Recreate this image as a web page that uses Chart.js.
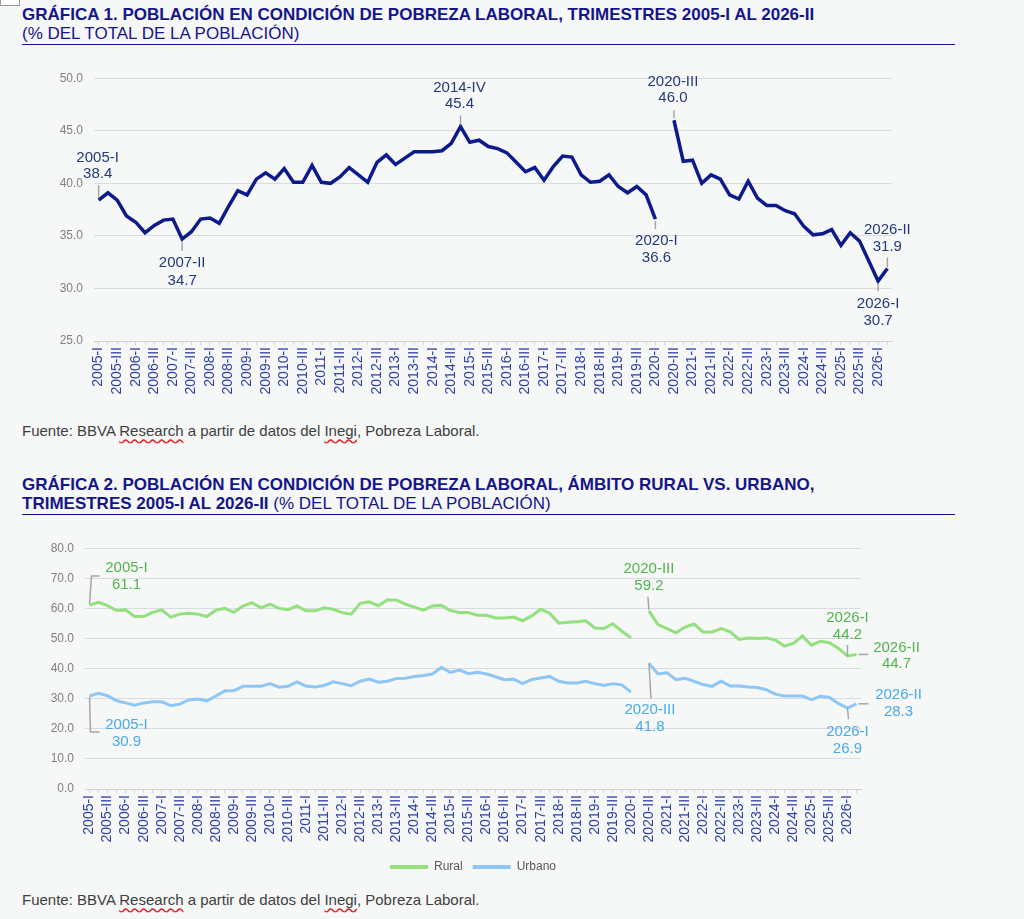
<!DOCTYPE html>
<html lang="es">
<head>
<meta charset="utf-8">
<title>Pobreza laboral</title>
<script src="https://cdn.jsdelivr.net/npm/chart.js@4.4.1/dist/chart.umd.min.js"></script>
<style>
  html, body { margin: 0; padding: 0; }
  body {
    width: 1024px; height: 919px; overflow: hidden; position: relative;
    background: #f6f7f7; font-family: "Liberation Sans", Arial, sans-serif;
  }
  .corner { position: absolute; left: 0; top: -2px; width: 18px; height: 6px; border: 1px solid #9a9a9a; background: #fff; }
  .titulo { position: absolute; left: 22px; width: 933px; color: #15158a; font-size: 17px; line-height: 19px; border-bottom: 1.5px solid #15158a; padding-bottom: 1px; }
  .titulo b { font-weight: bold; }
  .fuente { position: absolute; left: 22px; font-size: 15px; color: #404040; }
  .sq { text-decoration: underline wavy #e02020; text-decoration-skip-ink: none; text-underline-offset: 2px; }
  .box { position: absolute; left: 0; width: 1024px; }
</style>
</head>
<body>
<div class="corner"></div>
<div class="titulo" style="top:5px;"><b>GRÁFICA 1. POBLACIÓN EN CONDICIÓN DE POBREZA LABORAL, TRIMESTRES 2005-I AL 2026-II</b><br>(% DEL TOTAL DE LA POBLACIÓN)</div>
<div class="box" style="top:60px;height:345px;"><canvas id="chart1"></canvas></div>
<div class="fuente" style="top:422px;">Fuente: BBVA <span class="sq">Research</span> a partir de datos del <span class="sq">Inegi</span>, Pobreza Laboral.</div>

<div class="titulo" style="top:475px;"><b>GRÁFICA 2. POBLACIÓN EN CONDICIÓN DE POBREZA LABORAL, ÁMBITO RURAL VS. URBANO,<br>TRIMESTRES 2005-I AL 2026-II</b> (% DEL TOTAL DE LA POBLACIÓN)</div>
<div class="box" style="top:530px;height:353px;"><canvas id="chart2"></canvas></div>
<div class="fuente" style="top:891px;">Fuente: BBVA <span class="sq">Research</span> a partir de datos del <span class="sq">Inegi</span>, Pobreza Laboral.</div>

<script>
// Quarters 2005-I .. 2026-II
const trimestres = [
  '2005-I','2005-II','2005-III','2005-IV','2006-I','2006-II','2006-III','2006-IV',
  '2007-I','2007-II','2007-III','2007-IV','2008-I','2008-II','2008-III','2008-IV',
  '2009-I','2009-II','2009-III','2009-IV','2010-I','2010-II','2010-III','2010-IV',
  '2011-I','2011-II','2011-III','2011-IV','2012-I','2012-II','2012-III','2012-IV',
  '2013-I','2013-II','2013-III','2013-IV','2014-I','2014-II','2014-III','2014-IV',
  '2015-I','2015-II','2015-III','2015-IV','2016-I','2016-II','2016-III','2016-IV',
  '2017-I','2017-II','2017-III','2017-IV','2018-I','2018-II','2018-III','2018-IV',
  '2019-I','2019-II','2019-III','2019-IV','2020-I','2020-II','2020-III','2020-IV',
  '2021-I','2021-II','2021-III','2021-IV','2022-I','2022-II','2022-III','2022-IV',
  '2023-I','2023-II','2023-III','2023-IV','2024-I','2024-II','2024-III','2024-IV',
  '2025-I','2025-II','2025-III','2025-IV','2026-I','2026-II'
];

// Grafica 1: total population in labour poverty (%)
const pobrezaTotal = [
  38.4, 39.1, 38.4, 36.9, 36.3, 35.3, 36.0, 36.5,
  36.6, 34.7, 35.4, 36.6, 36.7, 36.2, 37.8, 39.3,
  38.9, 40.4, 41.0, 40.4, 41.4, 40.1, 40.1, 41.7,
  40.1, 40.0, 40.6, 41.5, 40.8, 40.1, 42.0, 42.7,
  41.8, 42.4, 43.0, 43.0, 43.0, 43.1, 43.8, 45.4,
  43.9, 44.1, 43.5, 43.3, 42.9, 42.0, 41.1, 41.5,
  40.3, 41.6, 42.6, 42.5, 40.8, 40.1, 40.2, 40.8,
  39.7, 39.1, 39.7, 38.9, 36.6, null, 46.0, 42.1,
  42.2, 40.0, 40.8, 40.4, 38.9, 38.5, 40.2, 38.6,
  37.9, 37.9, 37.4, 37.1, 35.9, 35.1, 35.2, 35.6,
  34.1, 35.3, 34.5, 32.6, 30.7, 31.9
];

// Grafica 2: rural vs urban (%)
const rural = [
  61.1, 62.0, 60.9, 59.3, 59.5, 57.3, 57.3, 58.7,
  59.5, 57.1, 58.1, 58.4, 58.1, 57.3, 59.4, 60.0,
  58.7, 60.8, 61.9, 60.2, 61.4, 60.0, 59.6, 60.8,
  59.2, 59.2, 60.2, 59.7, 58.6, 58.1, 61.7, 62.2,
  60.9, 62.8, 62.8, 61.4, 60.4, 59.4, 60.8, 61.0,
  59.3, 58.6, 58.6, 57.7, 57.7, 56.8, 56.8, 57.1,
  55.9, 57.5, 59.7, 58.4, 55.1, 55.4, 55.6, 55.9,
  53.5, 53.3, 54.9, 52.4, 50.2, null, 59.2, 54.6,
  53.3, 51.9, 53.8, 54.8, 52.2, 52.2, 53.3, 52.2,
  49.7, 50.2, 50.0, 50.2, 49.5, 47.5, 48.4, 50.8,
  47.8, 49.1, 48.6, 46.7, 44.2, 44.7
];
const urbano = [
  30.9, 31.8, 31.0, 29.3, 28.6, 27.8, 28.6, 29.0,
  29.0, 27.7, 28.2, 29.6, 29.9, 29.3, 30.9, 32.6,
  32.6, 34.1, 34.1, 34.1, 35.0, 33.8, 34.1, 35.6,
  34.2, 33.9, 34.4, 35.6, 35.0, 34.3, 35.8, 36.5,
  35.5, 35.8, 36.7, 36.8, 37.4, 37.7, 38.2, 40.4,
  38.7, 39.5, 38.3, 38.8, 38.2, 37.3, 36.3, 36.5,
  35.0, 36.4, 36.9, 37.4, 35.8, 35.2, 35.2, 35.8,
  35.0, 34.4, 35.0, 34.6, 32.2, null, 41.8, 38.2,
  38.6, 36.3, 36.8, 35.8, 34.7, 34.1, 35.8, 34.2,
  34.2, 33.9, 33.7, 33.0, 31.5, 30.9, 30.9, 30.9,
  29.7, 30.8, 30.4, 28.4, 26.9, 28.3
];

const FONT = '"Liberation Sans", Arial, sans-serif';

// Data callouts: which point, where the text sits relative to it, and the leader line
const notas1 = [
  { ds: 0, i: 0,  dx: -1, dy: [-42, -26], lead: [[0, -2], [0, -15]] },
  { ds: 0, i: 9,  dx: 0,  dy: [24, 42],   lead: [[0, 2], [0, 12]] },
  { ds: 0, i: 39, dx: -1, dy: [-39, -23], lead: [[0, -2], [0, -11]] },
  { ds: 0, i: 60, dx: 1,  dy: [22, 39],   lead: [[0, 2], [0, 10]] },
  { ds: 0, i: 62, dx: -1, dy: [-38, -22], lead: [[0, -2], [0, -10]] },
  { ds: 0, i: 84, dx: 0,  dy: [23, 40],   lead: [[0, 2], [0, 10]] },
  { ds: 0, i: 85, dx: 0,  dy: [-39, -22], lead: [[0, -1], [0, -11]] }
];
const notas2 = [
  { ds: 0, i: 0,  dx: 37, dy: [-37, -20], lead: [[0, -1], [2, -29], [10, -29]] },
  { ds: 1, i: 0,  dx: 37, dy: [29, 46],   lead: [[0, 1], [1, 36], [10, 36]] },
  { ds: 0, i: 62, dx: 0,  dy: [-42, -25], lead: [[0, -1], [-1, -14]] },
  { ds: 1, i: 62, dx: 1,  dy: [47, 64],   lead: [[0, 0], [2, 35]] },
  { ds: 0, i: 84, dx: 0,  dy: [-38, -21], lead: [[0, 0], [0, -11]] },
  { ds: 0, i: 85, dx: 40, dy: [-7, 9],    lead: [[2, 0], [12, 0]] },
  { ds: 1, i: 84, dx: 0,  dy: [24, 41],   lead: [[0, 0], [1, 11]] },
  { ds: 1, i: 85, dx: 42, dy: [-9, 8],    lead: [[2, 0], [12, 0]] }
];

// Plugin that draws the callouts from the scales
function calloutPlugin(notas, colors) {
  return {
    id: 'callouts',
    afterDatasetsDraw(chart) {
      const ctx = chart.ctx;
      const xs = chart.scales.x, ys = chart.scales.y;
      ctx.save();
      notas.forEach(n => {
        const v = chart.data.datasets[n.ds].data[n.i];
        const px = xs.getPixelForValue(n.i);
        const py = ys.getPixelForValue(v);
        ctx.strokeStyle = '#a6a6a6';
        ctx.lineWidth = 1.5;
        ctx.beginPath();
        n.lead.forEach((p, k) => {
          if (k === 0) ctx.moveTo(px + p[0], py + p[1]);
          else ctx.lineTo(px + p[0], py + p[1]);
        });
        ctx.stroke();
        ctx.fillStyle = colors[n.ds];
        ctx.font = '15px ' + FONT;
        ctx.textAlign = 'center';
        ctx.textBaseline = 'middle';
        ctx.fillText(chart.data.labels[n.i], px + n.dx, py + n.dy[0]);
        ctx.fillText(v.toFixed(1), px + n.dx, py + n.dy[1]);
      });
      ctx.restore();
    }
  };
}

function xAxis(height) {
  return {
    offset: true,
    grid: { display: true, drawOnChartArea: false, drawTicks: true, tickLength: 4, color: '#d3d3d3' },
    border: { display: true, color: '#d3d3d3' },
    ticks: {
      autoSkip: false, maxRotation: 90, minRotation: 90, padding: 2,
      color: '#3040a8', font: { family: FONT, size: 14 },
      callback: (val, idx) => idx % 2 === 0 ? trimestres[idx] : ''
    },
    afterFit: s => { s.height = height; }
  };
}

function yAxis(min, max, step, width) {
  return {
    min: min, max: max,
    grid: { color: '#d9dbe0', drawTicks: false, lineWidth: 1 },
    border: { display: false },
    ticks: {
      stepSize: step, padding: 11, color: '#808080',
      font: { family: FONT, size: 12 },
      callback: v => v.toFixed(1)
    },
    afterFit: s => { s.width = width; }
  };
}

function main() {
  const c1 = document.getElementById('chart1');
  new Chart(c1, {
    type: 'line',
    data: {
      labels: trimestres,
      datasets: [{
        label: 'Total',
        data: pobrezaTotal,
        borderColor: '#0c1a8a',
        backgroundColor: '#0c1a8a',
        borderWidth: 3.5,
        pointRadius: 0,
        tension: 0,
        spanGaps: false
      }]
    },
    options: {
      responsive: true,
      maintainAspectRatio: false,
      animation: false,
      layout: { padding: { left: 0, right: 132, top: 16, bottom: 0 } },
      scales: { x: xAxis(64), y: yAxis(25, 50, 5, 94) },
      plugins: { legend: { display: false }, tooltip: { enabled: false } }
    },
    plugins: [calloutPlugin(notas1, ['#233a7a'])]
  });

  const c2 = document.getElementById('chart2');
  new Chart(c2, {
    type: 'line',
    data: {
      labels: trimestres,
      datasets: [{
        label: 'Rural',
        data: rural,
        borderColor: '#93e07e',
        backgroundColor: '#93e07e',
        borderWidth: 3,
        pointRadius: 0,
        tension: 0
      }, {
        label: 'Urbano',
        data: urbano,
        borderColor: '#8ec6f6',
        backgroundColor: '#8ec6f6',
        borderWidth: 3,
        pointRadius: 0,
        tension: 0
      }]
    },
    options: {
      responsive: true,
      maintainAspectRatio: false,
      animation: false,
      layout: { padding: { left: 0, right: 163, top: 14, bottom: 0 } },
      scales: { x: xAxis(62), y: yAxis(0, 80, 10, 85) },
      plugins: {
        tooltip: { enabled: false },
        legend: {
          display: true,
          position: 'bottom',
          fullSize: false,
          labels: {
            boxWidth: 38, boxHeight: 4, padding: 10,
            color: '#595959', font: { family: FONT, size: 12 },
            generateLabels: chart => chart.data.datasets.map((d, k) => ({
              text: d.label, fillStyle: d.borderColor, strokeStyle: d.borderColor,
              lineWidth: 0, hidden: false, datasetIndex: k, fontColor: '#595959'
            }))
          }
        }
      }
    },
    plugins: [calloutPlugin(notas2, ['#52b44e', '#4aaae8'])]
  });
}

window.addEventListener('DOMContentLoaded', main);
</script>
</body>
</html>
